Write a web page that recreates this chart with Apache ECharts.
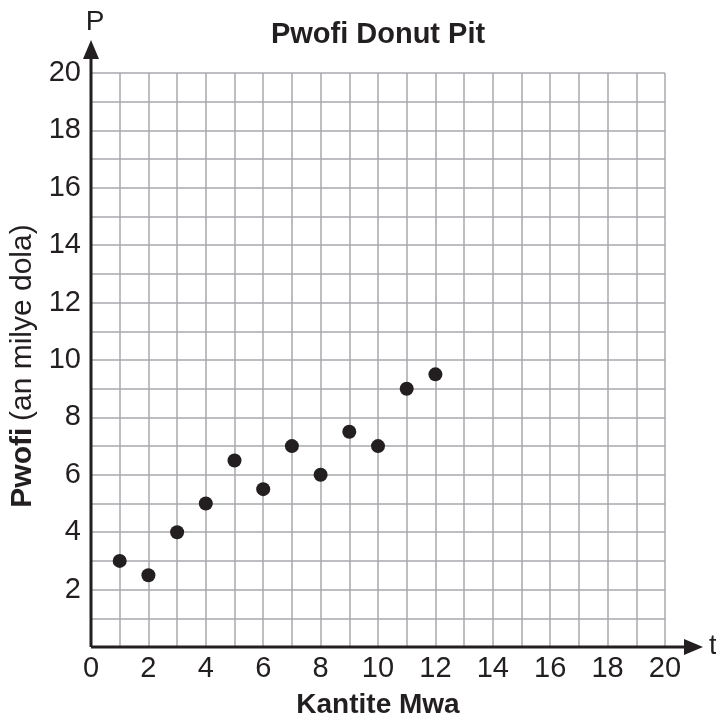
<!DOCTYPE html>
<html><head><meta charset="utf-8">
<script src="https://cdn.jsdelivr.net/npm/echarts@6/dist/echarts.min.js"></script>
<style>html,body{margin:0;padding:0;background:#fff}#c{width:716px;height:716px}</style>
</head><body><div id="c"></div>
<script>
const months = [1,2,3,4,5,6,7,8,9,10,11,12];
const profits = [3,2.5,4,5,6.5,5.5,7,6,7.5,7,9,9.5];
const title = 'Pwofi Donut Pit';
const xName = 'Kantite Mwa';
const yNameBold = 'Pwofi';
const yNameRest = '(an milye dola)';
const font = 'Liberation Sans, Arial, Helvetica, sans-serif';
const ink = '#231f20';

const chart = echarts.init(document.getElementById('c'));
const axisCommon = {
  type:'value', min:0, max:20, interval:1,
  axisLine:{show:false},
  axisTick:{show:false},
  splitLine:{show:true, lineStyle:{color:'#a7a9ac', width:1.5}}
};
chart.setOption({
  animation:false,
  title:{text:title, left:373, textAlign:'center', top:15, textStyle:{fontFamily:font, fontSize:29, fontWeight:'bold', color:ink}},
  grid:{left:91, top:73, width:574, height:574, containLabel:false, outerBoundsMode:'none'},
  xAxis:Object.assign({}, axisCommon, {
    name:xName, nameLocation:'middle', nameGap:44,
    nameTextStyle:{fontFamily:font, fontSize:28, fontWeight:'bold', color:ink},
    axisLabel:{fontFamily:font, fontSize:29, color:ink, margin:7,
      formatter:v => v % 2 === 0 ? String(v) : ''}
  }),
  yAxis:Object.assign({}, axisCommon, {
    name:'{b|' + yNameBold + '}  {n|' + yNameRest + '}', nameLocation:'middle', nameGap:53, nameRotate:90,
    nameTextStyle:{color:ink, padding:[0,12,0,0], rich:{
      b:{fontFamily:font, fontSize:30, fontWeight:'bold', color:ink},
      n:{fontFamily:font, fontSize:30, color:ink}}},
    axisLabel:{fontFamily:font, fontSize:29, color:ink, margin:10,
      formatter:v => (v % 2 === 0 && v !== 0) ? String(v) : ''}
  }),
  series:[{type:'scatter', data:months.map((m,i)=>[m, profits[i]]),
    symbolSize:14, itemStyle:{color:ink, opacity:1}}]
});

const o = chart.convertToPixel({gridIndex:0}, [0,0]);
const xe = chart.convertToPixel({gridIndex:0}, [20,20]);
const xTip = xe[0] + 38, yTip = xe[1] - 33;
chart.setOption({graphic:[
  {type:'line', shape:{x1:o[0], y1:o[1], x2:xTip-12, y2:o[1]}, style:{stroke:ink, lineWidth:3}, z:10},
  {type:'polygon', shape:{points:[[xTip,o[1]],[xTip-19,o[1]-8],[xTip-19,o[1]+8]]}, style:{fill:ink}, z:10},
  {type:'line', shape:{x1:o[0], y1:o[1], x2:o[0], y2:yTip+12}, style:{stroke:ink, lineWidth:3}, z:10},
  {type:'polygon', shape:{points:[[o[0],yTip],[o[0]-8,yTip+19],[o[0]+8,yTip+19]]}, style:{fill:ink}, z:10},
  {type:'text', style:{text:'P', x:o[0]+4, y:yTip-4, fontFamily:font, fontSize:28, fill:ink, align:'center', verticalAlign:'bottom'}, z:10},
  {type:'text', style:{text:'t', x:xTip+6, y:o[1]-1, fontFamily:font, fontSize:28, fill:ink, align:'left', verticalAlign:'middle'}, z:10}
]});
</script></body></html>
